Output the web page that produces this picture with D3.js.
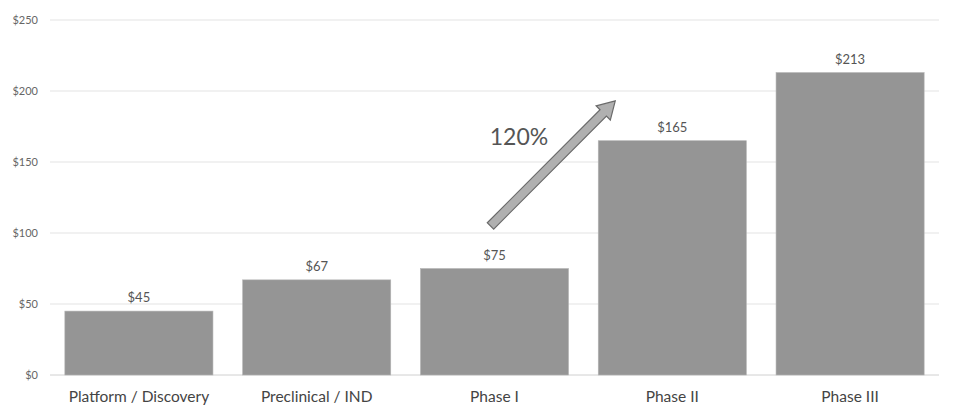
<!DOCTYPE html>
<html><head><meta charset="utf-8">
<script src="https://cdn.jsdelivr.net/npm/d3@7"></script>
<style>body{margin:0;background:#fff}svg{display:block}</style>
</head><body><svg id="c" width="955" height="405"></svg>
<script>
const categories = ["Platform / Discovery","Preclinical / IND","Phase I","Phase II","Phase III"];
const values = [45, 67, 75, 165, 213];
const valueLabels = ["$45","$67","$75","$165","$213"];
const yTicks = [0, 50, 100, 150, 200, 250];
const growthLabel = "120%";

const svg = d3.select("#c");
const font = "Lato, 'Open Sans', sans-serif";
const x = d3.scaleBand().domain(categories).range([50, 939]).paddingInner(0.167).paddingOuter(0.0835);
const y = d3.scaleLinear().domain([0, 250]).range([375, 20]);

// gridlines
svg.append("g").selectAll("line").data(yTicks).join("line")
  .attr("x1", 50).attr("x2", 939)
  .attr("y1", d => y(d)).attr("y2", d => y(d))
  .attr("stroke", d => d === 0 ? "#d0d0d0" : "#e3e3e3").attr("stroke-width", 1);

// y labels
svg.append("g").selectAll("text").data(yTicks).join("text")
  .attr("x", 38).attr("y", d => y(d) + 4)
  .attr("text-anchor", "end").attr("font-family", font).attr("font-size", 11)
  .attr("fill", "#666").text(d => "$" + d);

// bars
svg.append("g").selectAll("rect").data(values).join("rect")
  .attr("x", (d, i) => x(categories[i])).attr("width", x.bandwidth())
  .attr("y", d => y(d)).attr("height", d => y(0) - y(d))
  .attr("fill", "#959595").attr("stroke", "#b5b5b5").attr("stroke-width", 0.6);

// value labels
svg.append("g").selectAll("text").data(values).join("text")
  .attr("x", (d, i) => x(categories[i]) + x.bandwidth() / 2)
  .attr("y", d => y(d) - 9).attr("text-anchor", "middle")
  .attr("font-family", font).attr("font-size", 13).attr("fill", "#555")
  .text((d, i) => valueLabels[i]);

// category labels
svg.append("g").selectAll("text").data(categories).join("text")
  .attr("x", d => x(d) + x.bandwidth() / 2).attr("y", 402)
  .attr("text-anchor", "middle").attr("font-family", font).attr("font-size", 15.5)
  .attr("fill", "#444").text(d => d);

// arrow annotation
const x0 = x("Phase I") + x.bandwidth() / 2 - 4, y0 = y(105);
const x1 = x("Phase II") + 17, y1 = y(193);
const dx = x1 - x0, dy = y1 - y0, L = Math.hypot(dx, dy);
const ux = dx / L, uy = dy / L, nx = -uy, ny = ux;
const sw = 4.5, hw = 10, hl = 17;
const P = (a, b) => [x0 + ux * a + nx * b, y0 + uy * a + ny * b];
const pts = [P(0, -sw), P(L - hl, -sw), P(L - hl, -hw), P(L, 0), P(L - hl, hw), P(L - hl, sw), P(0, sw)];
svg.append("polygon").attr("points", pts.map(p => p.join(",")).join(" "))
  .attr("fill", "#b0b0b0").attr("stroke", "#6a6a6a").attr("stroke-width", 1.2);

svg.append("text").attr("x", 519).attr("y", 145).attr("text-anchor", "middle")
  .attr("font-family", font).attr("font-size", 23).attr("fill", "#555").text(growthLabel);
</script></body></html>
